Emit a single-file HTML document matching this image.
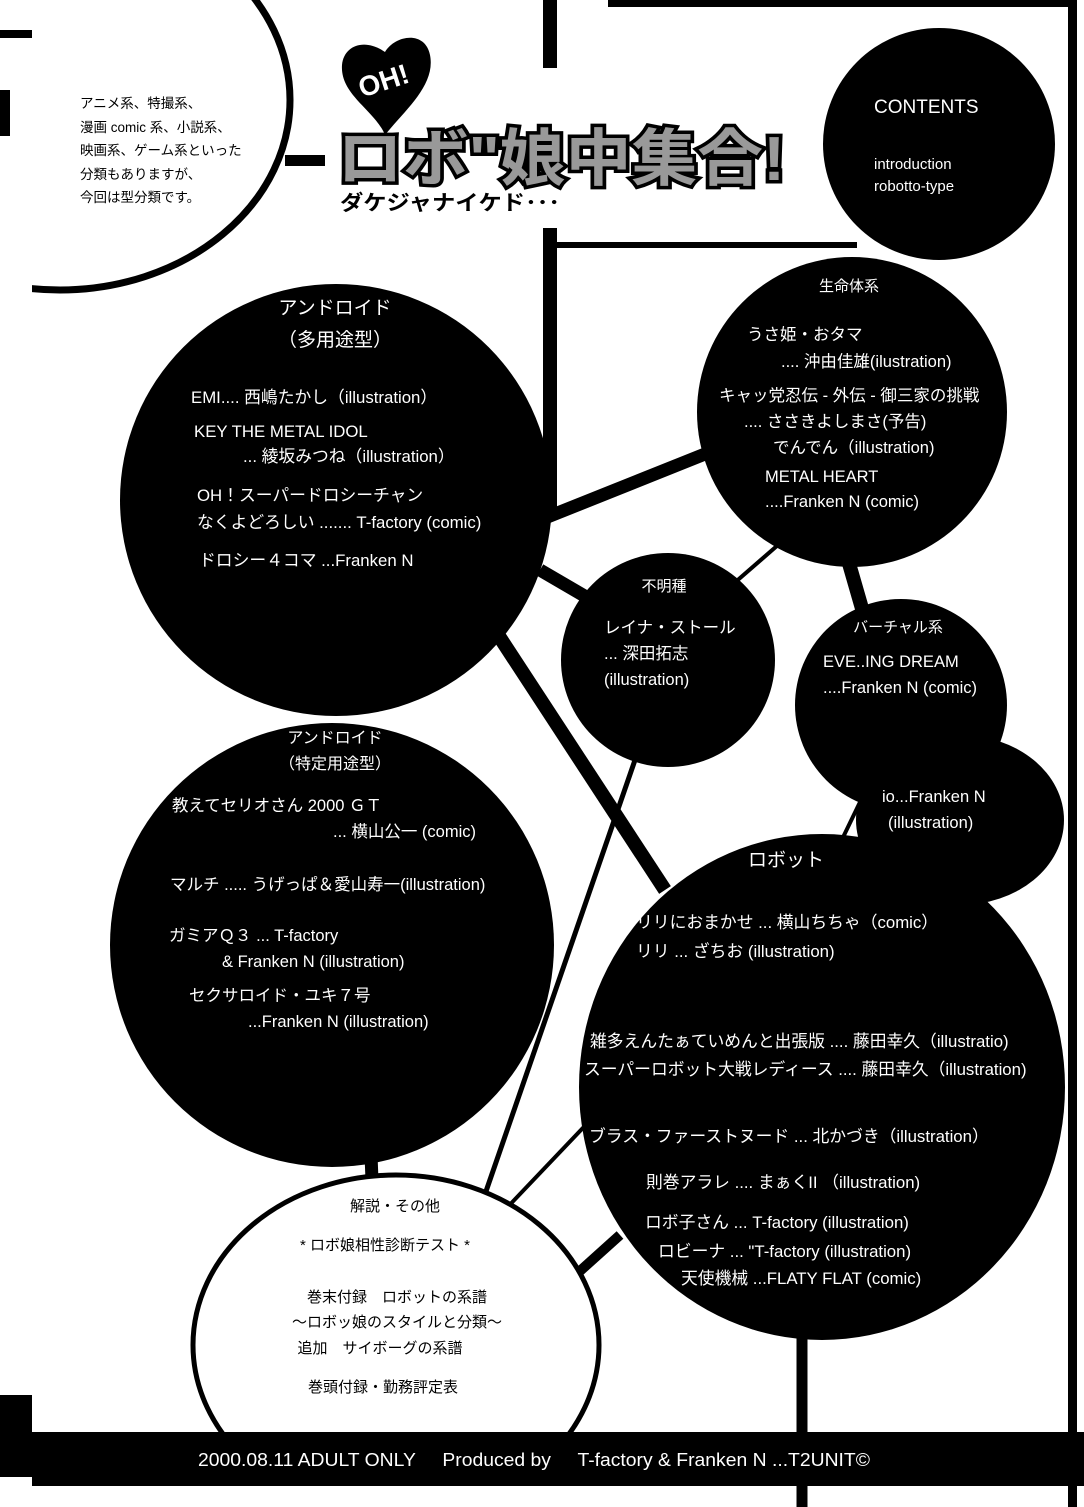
<!DOCTYPE html>
<html><head><meta charset="utf-8"><style>
html,body{margin:0;padding:0;background:#fff}
svg{display:block}
text{font-family:"Liberation Sans","Noto Sans CJK JP",sans-serif}
</style></head><body>
<svg width="1084" height="1507" viewBox="0 0 1084 1507" xmlns="http://www.w3.org/2000/svg">
<rect width="1084" height="1507" fill="#fff"/>
<rect x="0" y="30" width="32" height="8" fill="#000"/>
<rect x="0" y="90" width="10" height="46" fill="#000"/>
<clipPath id="c1"><rect x="32" y="0" width="400" height="320"/></clipPath>
<clipPath id="c2"><rect x="0" y="0" width="1084" height="1432"/></clipPath>
<ellipse cx="60" cy="100" rx="230" ry="190" fill="none" stroke="#000" stroke-width="7" clip-path="url(#c1)"/>
<rect x="285" y="155" width="40" height="11" fill="#000"/>
<rect x="543" y="0" width="14" height="68" fill="#000"/>
<rect x="543" y="228" width="14" height="290" fill="#000"/>
<rect x="557" y="242" width="300" height="6" fill="#000"/>
<rect x="608" y="0" width="466" height="7" fill="#000"/>
<rect x="1068" y="0" width="9" height="1507" fill="#000"/>
<g stroke="#000" stroke-linecap="butt">
<line x1="540" y1="520" x2="710" y2="452" stroke-width="13"/>
<line x1="540" y1="570" x2="600" y2="605" stroke-width="13"/>
<line x1="732" y1="585" x2="778" y2="545" stroke-width="4"/>
<line x1="848" y1="560" x2="863" y2="612" stroke-width="14"/>
<line x1="495" y1="630" x2="665" y2="890" stroke-width="14"/>
<line x1="635" y1="760" x2="483" y2="1200" stroke-width="5"/>
<line x1="600" y1="1110" x2="500" y2="1215" stroke-width="4"/>
<line x1="620" y1="1235" x2="570" y2="1280" stroke-width="10"/>
<line x1="370" y1="1130" x2="372" y2="1180" stroke-width="13"/>
<line x1="820" y1="885" x2="862" y2="798" stroke-width="4"/>
<line x1="802" y1="1300" x2="802" y2="1507" stroke-width="11"/>
</g>
<circle cx="939" cy="144" r="116" fill="#000"/>
<circle cx="852" cy="412" r="155" fill="#000"/>
<circle cx="336" cy="500" r="216" fill="#000"/>
<circle cx="332" cy="945" r="222" fill="#000"/>
<circle cx="668" cy="660" r="107" fill="#000"/>
<ellipse cx="960" cy="820" rx="104" ry="85" fill="#000"/>
<circle cx="901" cy="705" r="106" fill="#000"/>
<ellipse cx="822" cy="1087" rx="243" ry="253" fill="#000"/>
<ellipse cx="396" cy="1345" rx="203" ry="170" fill="#fff" stroke="#000" stroke-width="5" clip-path="url(#c2)"/>
<rect x="0" y="1395" width="32" height="82" fill="#000"/>
<rect x="32" y="1432" width="1052" height="54" fill="#000"/>

<path d="M385 135 C375 110 340 95 342 65 C344 45 365 38 385 52 C395 35 425 30 430 55 C436 85 405 110 385 135Z" fill="#000"/>
<text x="385" y="90" font-size="28" font-weight="bold" fill="#fff" text-anchor="middle" transform="rotate(-18 385 85)">OH!</text>
<text x="337" y="180" font-size="62" font-weight="bold" fill="#999" stroke="#000" stroke-width="7" paint-order="stroke" textLength="448" lengthAdjust="spacingAndGlyphs">ロボ"娘中集合!</text>
<text x="340" y="210" font-size="21" font-weight="bold" fill="#000" textLength="220" lengthAdjust="spacingAndGlyphs">ダケジャナイケド･･･</text>

<g font-size="13.5" fill="#000">
<text x="80" y="108">アニメ系、特撮系、</text>
<text x="80" y="132">漫画 comic 系、小説系、</text>
<text x="80" y="155">映画系、ゲーム系といった</text>
<text x="80" y="179">分類もありますが、</text>
<text x="80" y="202">今回は型分類です。</text>
</g>

<g fill="#fff">
<text x="874" y="113" font-size="19">CONTENTS</text>
<text x="874" y="169" font-size="15">introduction</text>
<text x="874" y="191" font-size="15">robotto-type</text>

<text x="335" y="314" font-size="19" text-anchor="middle">アンドロイド</text>
<text x="335" y="346" font-size="19" text-anchor="middle">（多用途型）</text>
<g font-size="16.8">
<text x="191" y="403">EMI.... 西嶋たかし（illustration）</text>
<text x="194" y="437">KEY THE METAL IDOL</text>
<text x="243" y="462">... 綾坂みつね（illustration）</text>
<text x="197" y="501">OH！スーパードロシーチャン</text>
<text x="197" y="528">なくよどろしい .......   T-factory (comic)</text>
<text x="199" y="566">ドロシー４コマ ...Franken N</text>
</g>

<text x="849" y="291" font-size="15" text-anchor="middle">生命体系</text>
<g font-size="16.5">
<text x="747" y="340">うさ姫・おタマ</text>
<text x="781" y="367">.... 沖由佳雄(ilustration)</text>
<text x="719" y="401">キャッ党忍伝 - 外伝 - 御三家の挑戦</text>
<text x="744" y="427">.... ささきよしまさ(予告)</text>
<text x="773" y="453">でんでん（illustration)</text>
<text x="765" y="482">METAL HEART</text>
<text x="765" y="507">....Franken N (comic)</text>
</g>

<text x="664" y="591" font-size="15" text-anchor="middle">不明種</text>
<g font-size="16.5">
<text x="604" y="633">レイナ・ストール</text>
<text x="604" y="659">... 深田拓志</text>
<text x="604" y="685">(illustration)</text>
</g>

<text x="898" y="632" font-size="15" text-anchor="middle">バーチャル系</text>
<g font-size="16.5">
<text x="823" y="667">EVE..ING DREAM</text>
<text x="823" y="693">....Franken N (comic)</text>
<text x="882" y="802">io...Franken N</text>
<text x="888" y="828">(illustration)</text>
</g>

<text x="335" y="743" font-size="16" text-anchor="middle">アンドロイド</text>
<text x="335" y="769" font-size="16" text-anchor="middle">（特定用途型）</text>
<g font-size="16.5">
<text x="172" y="811">教えてセリオさん 2000 ＧＴ</text>
<text x="333" y="837">... 横山公一 (comic)</text>
<text x="170" y="890">マルチ ..... うげっぱ＆愛山寿一(illustration)</text>
<text x="169" y="941">ガミアＱ３ ...   T-factory</text>
<text x="222" y="967">&amp;  Franken N (illustration)</text>
<text x="189" y="1001">セクサロイド・ユキ７号</text>
<text x="248" y="1027">...Franken N (illustration)</text>
</g>

<text x="786" y="866" font-size="19" text-anchor="middle">ロボット</text>
<g font-size="16.8">
<text x="636" y="928">リリにおまかせ ... 横山ちちゃ（comic）</text>
<text x="636" y="957">リリ ... ざちお  (illustration)</text>
<text x="590" y="1047">雑多えんたぁていめんと出張版 .... 藤田幸久（illustratio)</text>
<text x="584" y="1075">スーパーロボット大戦レディース .... 藤田幸久（illustration)</text>
<text x="589" y="1142">ブラス・ファーストヌード ... 北かづき（illustration）</text>
<text x="646" y="1188">則巻アラレ .... まぁくII （illustration)</text>
<text x="645" y="1228">ロボ子さん ...    T-factory (illustration)</text>
<text x="658" y="1257">ロビーナ ...  "T-factory (illustration)</text>
<text x="681" y="1284">天使機械 ...FLATY FLAT (comic)</text>
</g>

<text x="198" y="1466" font-size="18" textLength="672" lengthAdjust="spacingAndGlyphs" xml:space="preserve">2000.08.11 ADULT ONLY     Produced by     T-factory &amp; Franken N ...T2UNIT©</text>
</g>

<g fill="#000" font-size="15" text-anchor="middle">
<text x="395" y="1211">解説・その他</text>
<text x="385" y="1250">* ロボ娘相性診断テスト *</text>
<text x="397" y="1302">巻末付録　ロボットの系譜</text>
<text x="397" y="1327">〜ロボッ娘のスタイルと分類〜</text>
<text x="380" y="1353">追加　サイボーグの系譜</text>
<text x="383" y="1392">巻頭付録・勤務評定表</text>
</g>
</svg>
</body></html>
